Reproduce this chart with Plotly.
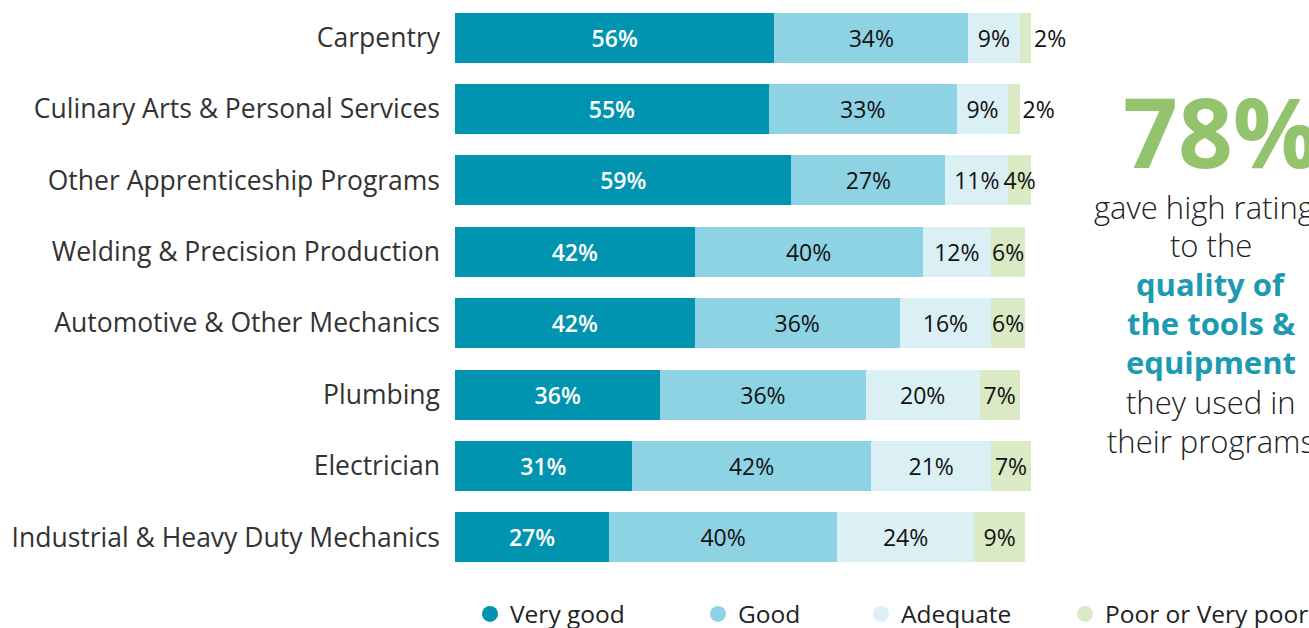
import plotly.graph_objects as go

categories = [
    "Carpentry",
    "Culinary Arts & Personal Services",
    "Other Apprenticeship Programs",
    "Welding & Precision Production",
    "Automotive & Other Mechanics",
    "Plumbing",
    "Electrician",
    "Industrial & Heavy Duty Mechanics",
]
very_good = [56, 55, 59, 42, 42, 36, 31, 27]
good = [34, 33, 27, 40, 36, 36, 42, 40]
adequate = [9, 9, 11, 12, 16, 20, 21, 24]
poor = [2, 2, 4, 6, 6, 7, 7, 9]

series_names = ["Very good", "Good", "Adequate", "Poor or Very poor"]
series_values = [very_good, good, adequate, poor]
colors = ["#0094B0", "#8ED3E3", "#DBF0F5", "#DAEAC5"]
text_colors = ["#FFFFFF", "#111111", "#111111", "#111111"]
text_weights = [600, 400, 400, 400]

FONT = "Open Sans"
W, H = 1309, 628
ML, MR, MT, MB = 455, 278, 2, 55

fig = go.Figure()
for name, vals, col, tcol, tw in zip(series_names, series_values, colors, text_colors, text_weights):
    if name == "Poor or Very poor":
        tpos = ["outside" if v <= 2 else "inside" for v in vals]
    else:
        tpos = "inside"
    fig.add_trace(go.Bar(
        y=categories, x=vals, orientation="h", name=name,
        marker=dict(color=col, line=dict(width=0)),
        texttemplate="%{x}%", textposition=tpos, insidetextanchor="middle",
        constraintext="none", cliponaxis=False, textangle=0,
        textfont=dict(family=FONT, size=23, color=tcol, weight=tw),
        outsidetextfont=dict(family=FONT, size=23, color="#111111"),
        showlegend=False, width=0.7, hoverinfo="skip",
    ))

legend_x = [470, 698, 861, 1065]
legend_names = ["legend", "legend2", "legend3", "legend4"]
for name, col, lg in zip(series_names, colors, legend_names):
    fig.add_trace(go.Scatter(
        x=[None], y=[None], mode="markers", name=name,
        marker=dict(symbol="circle", size=20, color=col),
        legend=lg, showlegend=True,
    ))

layout_legends = {}
for lg, lx in zip(legend_names, legend_x):
    layout_legends[lg] = dict(
        x=lx / W, xref="container", xanchor="left",
        y=1 - 614 / H, yref="container", yanchor="middle",
        orientation="h", bgcolor="rgba(0,0,0,0)",
        font=dict(family=FONT, size=24.5, color="#222222"),
        itemwidth=30,
    )

fig.update_layout(
    width=W, height=H,
    margin=dict(l=ML, r=MR, t=MT, b=MB, autoexpand=False),
    barmode="stack", bargap=0.3,
    plot_bgcolor="white", paper_bgcolor="white",
    xaxis=dict(range=[0, 101], visible=False, fixedrange=True),
    yaxis=dict(autorange="reversed", showgrid=False, zeroline=False, showline=False,
               ticks="", ticklabelstandoff=14,
               tickfont=dict(family=FONT, size=26.5, color="#333333", weight=400)),
    **layout_legends,
)

plot_left, plot_right = ML, W - MR
plot_top, plot_bottom = MT, H - MB


def px_to_paper(px, py):
    return ((px - plot_left) / (plot_right - plot_left),
            (plot_bottom - py) / (plot_bottom - plot_top))


# Right-side callout
ax, ay = px_to_paper(1221, 130)
fig.add_annotation(
    text="<b>78%</b>", x=ax, y=ay, xref="paper", yref="paper",
    showarrow=False, xanchor="center", yanchor="middle", height=100,
    font=dict(family=FONT, size=96, color="#94C36D"),
)
lines = [
    ("gave high ratings", 207, False),
    ("to the", 245, False),
    ("quality of", 284, True),
    ("the tools &", 323, True),
    ("equipment", 362, True),
    ("they used in", 402, False),
    ("their programs", 441, False),
]
for txt, yy, bold in lines:
    lx, ly = px_to_paper(1211, yy)
    fig.add_annotation(
        text=f"<b>{txt}</b>" if bold else txt,
        x=lx, y=ly, xref="paper", yref="paper",
        showarrow=False, xanchor="center", yanchor="middle",
        font=dict(family=FONT, size=31, color="#1C9AB1" if bold else "#222222",
                  weight=700 if bold else 300),
    )

fig.write_html(
    "out.html",
    config={"displayModeBar": False},
    post_script="document.body.style.margin='0';document.body.style.overflow='hidden';",
)
